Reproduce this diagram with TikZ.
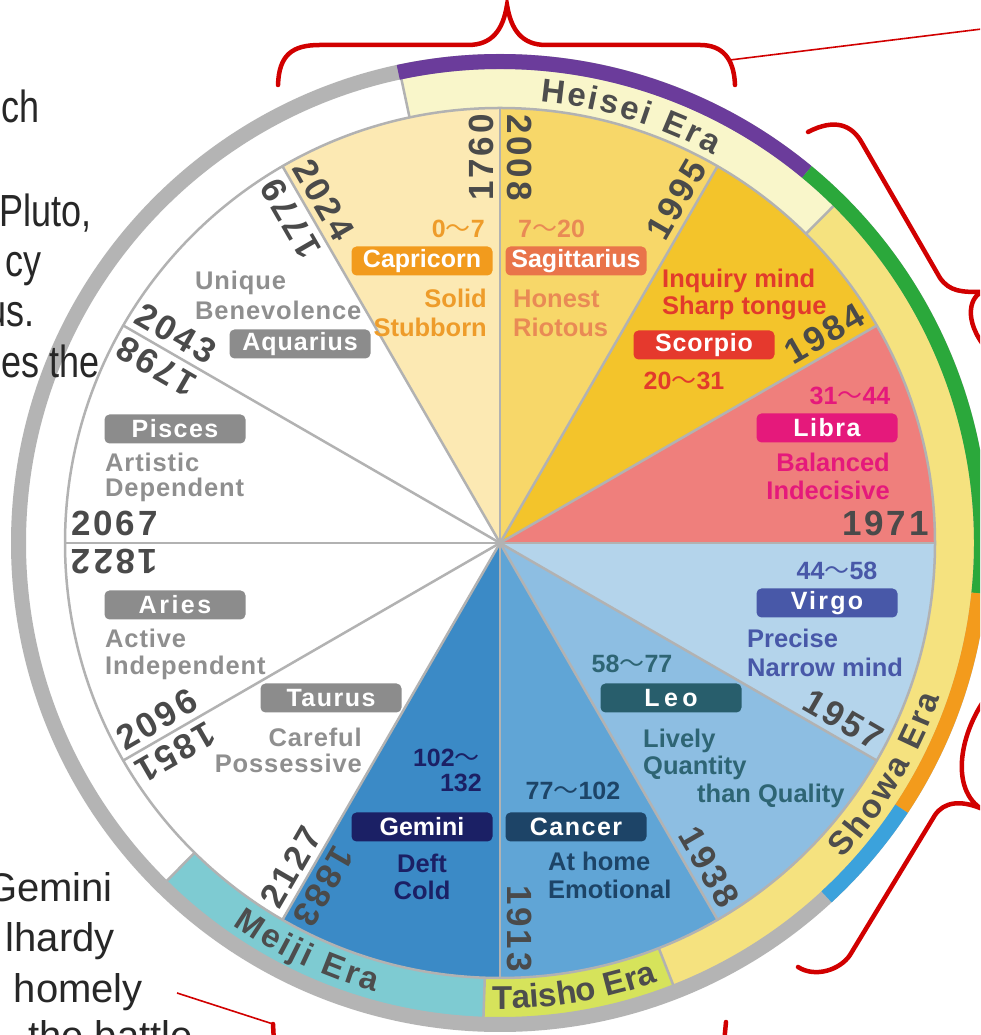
\documentclass[tikz,border=0pt]{standalone}
\usepackage{graphicx}
\usepackage{fontspec}
\setmainfont{Liberation Sans}
\newfontfamily\cjk{Noto Sans CJK SC}
\newcommand\wave{{\cjk\mdseries ～}}
\newcommand\lsp[1]{\addfontfeature{LetterSpace=#1}}
\newcommand\narrowtxt[1]{\scalebox{0.8}[1]{#1}}
\definecolor{libra}{HTML}{EF7F7C}
\definecolor{scorpio}{HTML}{F3C42B}
\definecolor{sagitt}{HTML}{F7D769}
\definecolor{capri}{HTML}{FCE9B3}
\definecolor{virgo}{HTML}{B4D4EB}
\definecolor{leo}{HTML}{8DBEE2}
\definecolor{cancer}{HTML}{60A5D6}
\definecolor{gemini}{HTML}{3B8AC6}
\definecolor{bcap}{HTML}{F29B1D}
\definecolor{bsag}{HTML}{E9744A}
\definecolor{bsco}{HTML}{E5392D}
\definecolor{blib}{HTML}{E5197B}
\definecolor{bvir}{HTML}{4858A8}
\definecolor{bleo}{HTML}{285E6C}
\definecolor{bcan}{HTML}{1D4467}
\definecolor{bgem}{HTML}{1B2065}
\definecolor{bgray}{HTML}{8C8C8C}
\definecolor{tcap}{HTML}{EE9C2A}
\definecolor{tsag}{HTML}{E98A55}
\definecolor{tsco}{HTML}{E23B2B}
\definecolor{tlib}{HTML}{E5197B}
\definecolor{tvir}{HTML}{4858A8}
\definecolor{tleo}{HTML}{2E6574}
\definecolor{tcan}{HTML}{1D4467}
\definecolor{tgem}{HTML}{1B2065}
\definecolor{tgray}{HTML}{8F8F8F}
\definecolor{heisei}{HTML}{F9F6CA}
\definecolor{showa}{HTML}{F5E27F}
\definecolor{taisho}{HTML}{D6E35B}
\definecolor{meiji}{HTML}{7ECBD2}
\definecolor{ringgray}{HTML}{B4B4B4}
\definecolor{rpurple}{HTML}{6B3C9B}
\definecolor{rgreen}{HTML}{2BA83B}
\definecolor{rorange}{HTML}{F39B1C}
\definecolor{rblue}{HTML}{3BA2DC}
\definecolor{lgray}{HTML}{B2B2B2}
\definecolor{yearc}{HTML}{4A4A4A}
\definecolor{erac}{HTML}{4D4D4D}
\definecolor{bred}{HTML}{D10000}
\definecolor{fragc}{HTML}{272727}
\newcommand\eraband[3]{\fill[#1] (#2:435) arc[start angle=#2,end angle=#3,radius=435] -- (#3:475) arc[start angle=#3,end angle=#2,radius=475] -- cycle;}
\newcommand\ringarc[3]{\draw[line width=15,#1] (#2:481.5) arc[start angle=#2,end angle=#3,radius=481.5];}
\begin{document}
\begin{tikzpicture}[x=1pt,y=1pt,
  yr/.style={font=\fontsize{35}{35}\selectfont\bfseries\lsp{8}, text=yearc, inner sep=0pt},
  zbox/.style={rounded corners=5pt, minimum width=141, minimum height=29, inner sep=0pt, text=white, font=\fontsize{25}{25}\selectfont\bfseries},
  trait/.style={font=\fontsize{25.5}{25.5}\selectfont\bfseries, inner sep=0pt},
  age/.style={font=\fontsize{25}{25}\selectfont\bfseries, inner sep=0pt},
  eratxt/.style={font=\fontsize{33}{33}\selectfont\bfseries, text=erac, inner sep=0pt, anchor=base},
  frag/.style={font=\fontsize{45}{45}\selectfont, text=fragc, inner sep=0pt, anchor=base east},
  fragb/.style={font=\fontsize{40}{40}\selectfont, text=fragc, inner sep=0pt, anchor=base east},
  sliceline/.style={draw=lgray, line width=2.5},
  bracepath/.style={draw=bred, line width=4.5, line cap=round},
  thinred/.style={draw=bred, line width=1.6}
]
\useasboundingbox (0,0) rectangle (980,1035);
\clip (0,0) rectangle (980,1035);
\fill[white] (0,0) rectangle (980,1035);

\begin{scope}[shift={(500,492)}]
  % era bands
  \eraband{heisei}{45.3}{102}
  \eraband{showa}{-68.6}{45.3}
  \eraband{taisho}{-92}{-68.6}
  \eraband{meiji}{-134.6}{-92}
  \foreach \a in {102,45.3,-68.6,-92,-134.6}
    \draw[sliceline] (\a:435) -- (\a:475);
  % outer ring
  \draw[line width=15, ringgray] (0,0) circle (481.5);
  \ringarc{rpurple}{50.4}{102.2}
  \ringarc{rgreen}{-6}{50.4}
  \ringarc{rorange}{-33.5}{-6}
  \ringarc{rblue}{-47.3}{-33.5}
  % slices
  \foreach \s/\e/\c in {0/30/libra,30/60/scorpio,60/90/sagitt,90/120/capri,120/240/white,-120/-90/gemini,-90/-60/cancer,-60/-30/leo,-30/0/virgo}
    \fill[\c] (0,0) -- (\s:435) arc[start angle=\s,end angle=\e,radius=435] -- cycle;
  \foreach \a in {0,30,...,330}
    \draw[sliceline] (0,0) -- (\a:435);
  \draw[sliceline] (0,0) circle (435);

  % era letters
  \foreach \c/\a [count=\i] in {H/83.28,e/80.22,i/78.11,s/76.00,e/73.29,i/71.18,E/67.30,r/64.71,a/62.37}
    \node[eratxt, rotate=\a-90] (hei\i) at (\a:443) {\c};
  \foreach \c/\a [count=\i] in {S/-41.30,h/-38.38,o/-35.58,w/-32.44,a/-29.41,E/-25.16,r/-22.70,a/-20.47}
    \node[eratxt, rotate=\a+90] (sho\i) at (\a:466) {\c};
  \foreach \c/\a [count=\i] in {T/-89.73,a/-87.36,i/-85.67,s/-83.98,h/-81.61,o/-79.13,E/-75.40,r/-73.26,a/-71.35}
    \node[eratxt, rotate=\a+90] (tai\i) at (\a:466) {\c};
  \foreach \c/\a [count=\i] in {M/-123.26,e/-120.10,i/-118.06,j/-116.59,i/-115.11,E/-111.37,r/-108.89,a/-106.63}
    \node[eratxt, rotate=\a+90] (mei\i) at (\a:466) {\c};

  % years
  \node[yr, rotate=90]  (y1760) at (92.83:386) {1760};
  \node[yr, rotate=-90] (y2008) at (87.17:386) {2008};
  \node[yr, rotate=60]  (y1995) at (62.83:386) {1995};
  \node[yr, rotate=30]  (y1984) at (32.83:386) {1984};
  \node[yr]             (y1971) at (2.83:386) {1971};
  \node[yr, rotate=-30] (y1957) at (-27.17:386) {1957};
  \node[yr, rotate=-60] (y1938) at (-57.17:386) {1938};
  \node[yr, rotate=-90] (y1913) at (-87.17:386) {1913};
  \node[yr, rotate=240] (y1883) at (242.83:386) {1883};
  \node[yr, rotate=60]  (y2127) at (237.17:386) {2127};
  \node[yr, rotate=210] (y1851) at (212.83:386) {1851};
  \node[yr, rotate=30]  (y2096) at (207.17:386) {2096};
  \node[yr, rotate=180] (y1822) at (182.83:386) {1822};
  \node[yr]             (y2067) at (177.17:386) {2067};
  \node[yr, rotate=150] (y1798) at (152.83:386) {1798};
  \node[yr, rotate=-30] (y2043) at (147.17:386) {2043};
  \node[yr, rotate=120] (y1779) at (122.83:386) {1779};
  \node[yr, rotate=-60] (y2024) at (117.17:386) {2024};

  % sign boxes
  \node[zbox, fill=bcap] (capricorn) at (-78,282) {Capricorn};
  \node[zbox, fill=bsag] (sagittarius) at (76,282) {Sagittarius};
  \node[zbox, fill=bsco] (scorpio) at (204,198) {\lsp{3}Scorpio};
  \node[zbox, fill=blib] (libra) at (327,115) {\lsp{6}Libra};
  \node[zbox, fill=bvir] (virgo) at (327,-60) {\lsp{9}Virgo};
  \node[zbox, fill=bleo] (leo) at (171,-155) {\lsp{18}Leo};
  \node[zbox, fill=bcan] (cancer) at (76,-284) {\lsp{6}Cancer};
  \node[zbox, fill=bgem] (gemini) at (-78,-284) {Gemini};
  \node[zbox, fill=bgray] (taurus) at (-169,-155) {\lsp{6}Taurus};
  \node[zbox, fill=bgray] (aries) at (-325,-62) {\lsp{10}Aries};
  \node[zbox, fill=bgray] (pisces) at (-325,114) {\lsp{6}Pisces};
  \node[zbox, fill=bgray] (aquarius) at (-200,199) {\lsp{4}Aquarius};

  % ages
  \node[age, text=tcap, anchor=base east] (agecap) at (-15,305) {0\wave 7};
  \node[age, text=tsag, anchor=base west] (agesag) at (18,305) {7\wave 20};
  \node[age, text=tsco, anchor=base] (agesco) at (184,153) {20\wave 31};
  \node[age, text=tlib, anchor=base] (agelib) at (350,138) {31\wave 44};
  \node[age, text=tvir, anchor=base] (agevir) at (337,-37) {44\wave 58};
  \node[age, text=tleo, anchor=base] (ageleo) at (132,-130) {58\wave 77};
  \node[age, text=tcan, anchor=base] (agecan) at (73,-257) {77\wave 102};
  \node[age, text=tgem, anchor=base east] (agegemA) at (-20,-224) {102\wave};
  \node[age, text=tgem, anchor=base east] (agegemB) at (-18,-249) {132};

  % traits
  \node[trait, text=tcap, anchor=base east] (capA) at (-13,235) {Solid};
  \node[trait, text=tcap, anchor=base east] (capB) at (-13,206) {Stubborn};
  \node[trait, text=tsag, anchor=base west] (sagA) at (13,235) {Honest};
  \node[trait, text=tsag, anchor=base west] (sagB) at (13,206) {Riotous};
  \node[trait, text=tsco, anchor=base west] (scoA) at (162,255) {Inquiry mind};
  \node[trait, text=tsco, anchor=base west] (scoB) at (162,228) {Sharp tongue};
  \node[trait, text=tlib, anchor=base east] (libA) at (390,71) {Balanced};
  \node[trait, text=tlib, anchor=base east] (libB) at (390,43) {Indecisive};
  \node[trait, text=tvir, anchor=base west] (virA) at (247,-105) {Precise};
  \node[trait, text=tvir, anchor=base west] (virB) at (247,-134) {Narrow mind};
  \node[trait, text=tleo, anchor=base west] (leoA) at (143,-205) {Lively};
  \node[trait, text=tleo, anchor=base west] (leoB) at (143,-232) {Quantity};
  \node[trait, text=tleo, anchor=base west] (leoC) at (197,-260) {than Quality};
  \node[trait, text=tcan, anchor=base west] (canA) at (48,-328) {At home};
  \node[trait, text=tcan, anchor=base west] (canB) at (48,-356) {Emotional};
  \node[trait, text=tgem, anchor=base] (gemA) at (-78,-330) {Deft};
  \node[trait, text=tgem, anchor=base] (gemB) at (-78,-357) {Cold};
  \node[trait, text=tgray, anchor=base east] (tauA) at (-138,-204) {\lsp{3.5}Careful};
  \node[trait, text=tgray, anchor=base east] (tauB) at (-138,-230) {\lsp{3.5}Possessive};
  \node[trait, text=tgray, anchor=base west] (ariA) at (-395,-105) {\lsp{3.5}Active};
  \node[trait, text=tgray, anchor=base west] (ariB) at (-395,-132) {\lsp{3.5}Independent};
  \node[trait, text=tgray, anchor=base west] (pisA) at (-395,71) {\lsp{3.5}Artistic};
  \node[trait, text=tgray, anchor=base west] (pisB) at (-395,46) {\lsp{3.5}Dependent};
  \node[trait, text=tgray, anchor=base west] (aquA) at (-305,253) {\lsp{3.5}Unique};
  \node[trait, text=tgray, anchor=base west] (aquB) at (-305,223) {\lsp{3.5}Benevolence};
\end{scope}

% left text fragments
\node[frag] (f1) at (40,912) {\narrowtxt{ch}};
\node[frag] (f2) at (92,808) {\narrowtxt{Pluto,}};
\node[frag] (f3) at (42,758) {\narrowtxt{cy}};
\node[frag] (f4) at (35,708) {\narrowtxt{us.}};
\node[frag] (f5) at (100,657) {\narrowtxt{es the}};
\node[fragb] (g1) at (113,133) {Gemini};
\node[fragb] (g2) at (115,83) {lhardy};
\node[fragb] (g3) at (143,32) {homely};
\node[fragb, anchor=base west] (g4) at (28,-14) {the battle};

% braces and leader lines
\coordinate (topL) at (278,950);
\coordinate (topTip) at (507,1030);
\coordinate (topR) at (735,950);
\draw[bracepath] (topL) .. controls (279,980) and (292,990) .. (320,990) -- (468,990)
  .. controls (492,990) and (503,1005) .. (topTip)
  .. controls (511,1005) and (522,990) .. (546,990) -- (700,990)
  .. controls (722,990) and (734,977) .. (topR);
\coordinate (leadA) at (730,975);
\coordinate (leadAend) at (990,1007);
\draw[thinred] (leadA) -- (leadAend);

\coordinate (brA1) at (808,903);
\coordinate (brAtip) at (982,743);
\coordinate (brA2) at (992,680);
\draw[bracepath] (brA1) .. controls (835,917) and (852,910) .. (862,892) -- (940,757)
  .. controls (950,743) and (962,743) .. (brAtip)
  .. controls (968,737) and (963,710) .. (brA2);

\coordinate (brB0) at (992,345);
\coordinate (brBtip) at (980,227);
\coordinate (brB2) at (798,68);
\draw[bracepath] (brB0) .. controls (962,310) and (948,250) .. (brBtip)
  .. controls (960,235) and (944,233) .. (935,220) -- (850,80)
  .. controls (840,65) and (815,57) .. (brB2);

\coordinate (botL) at (273,11);
\coordinate (botLo) at (274,-8);
\coordinate (botR) at (726,13);
\coordinate (botRo) at (724,-8);
\draw[bracepath] (botL) -- (botLo);
\draw[bracepath] (botR) -- (botRo);
\coordinate (leadB) at (177,42);
\draw[thinred] (leadB) -- (botL);
\end{tikzpicture}
\end{document}
